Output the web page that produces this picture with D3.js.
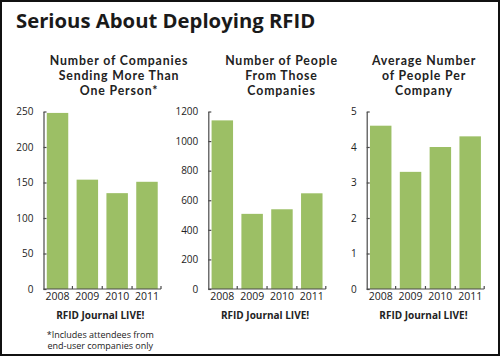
<!DOCTYPE html>
<html>
<head>
<meta charset="utf-8">
<script src="https://cdn.jsdelivr.net/npm/d3@7"></script>
<style>
  html, body { margin: 0; padding: 0; background: #fff; }
  svg { display: block; font-family: "Open Sans", sans-serif; }
</style>
</head>
<body>
<svg id="chart" width="500" height="356"></svg>
<script>
// ---- data ----
const years = ["2008", "2009", "2010", "2011"];
const companiesSending = [248, 154, 135, 151];
const peopleFromCompanies = [1140, 508, 539, 647];
const averagePerCompany = [4.6, 3.3, 4.0, 4.3];

const companiesTicks = [0, 50, 100, 150, 200, 250];
const peopleTicks = [0, 200, 400, 600, 800, 1000, 1200];
const averageTicks = [0, 1, 2, 3, 4, 5];

const mainTitle = "Serious About Deploying RFID";
const companiesTitle = ["Number of Companies", "Sending More Than", "One Person*"];
const peopleTitle = ["Number of People", "From Those", "Companies"];
const averageTitle = ["Average Number", "of People Per", "Company"];
const xAxisLabel = "RFID Journal LIVE!";
const footnote = ["*Includes attendees from", "end-user companies only"];

// ---- layout ----
const svg = d3.select("#chart");
const W = 500, H = 356;
const barColor = "#9cbf65";
const axisColor = "#4a4a4a";
const textColor = "#222";

svg.append("rect").attr("x", 1).attr("y", 1).attr("width", W - 2).attr("height", H - 2)
  .attr("fill", "#fff").attr("stroke", "#111").attr("stroke-width", 2);

svg.append("text").attr("x", 16).attr("y", 27.5)
  .attr("font-size", 20.3).attr("font-weight", 700).attr("fill", "#1a1a1a")
  .text(mainTitle);

const yTop = 111.5, yBottom = 289;

const panels = [
  { values: companiesSending, ticks: companiesTicks, max: 250, title: companiesTitle, x0: 43.5, titleX: 119 },
  { values: peopleFromCompanies, ticks: peopleTicks, max: 1200, title: peopleTitle, x0: 208.3, titleX: 281.5 },
  { values: averagePerCompany, ticks: averageTicks, max: 5, title: averageTitle, x0: 366.7, titleX: 424 }
];

panels.forEach((p, pi) => {
  const x1 = p.x0 + 117.5;
  const x = d3.scaleBand().domain(years).range([p.x0, x1]).paddingInner(0.28).paddingOuter(0.11);
  const y = d3.scaleLinear().domain([0, p.max]).range([yBottom, yTop]);
  const g = svg.append("g");

  // title
  g.append("text").attr("text-anchor", "middle").attr("font-size", 12.3).attr("font-weight", 700)
    .attr("font-family", "Lato, sans-serif").attr("letter-spacing", 0.85)
    .attr("fill", textColor)
    .selectAll("tspan").data(p.title).join("tspan")
    .attr("x", p.titleX).attr("y", (d, i) => 65.3 + i * 14.85).text(d => d);

  // bars
  g.selectAll("rect.bar").data(p.values).join("rect").attr("class", "bar")
    .attr("x", (d, i) => x(years[i]))
    .attr("width", x.bandwidth())
    .attr("y", d => y(d))
    .attr("height", d => y(0) - y(d))
    .attr("fill", barColor);

  // y axis
  const yAxis = d3.axisLeft(y).tickValues(p.ticks).tickFormat(d3.format("d"))
    .tickSize(-3).tickPadding(10).tickSizeOuter(0);
  const ya = g.append("g").attr("transform", `translate(${p.x0},0)`).call(yAxis);
  ya.select(".domain").attr("stroke", axisColor).attr("stroke-width", 1.2);
  ya.selectAll(".tick line").attr("stroke", axisColor).attr("stroke-width", 1.2);
  ya.selectAll(".tick text").attr("font-size", 10).attr("fill", textColor)
    .attr("font-family", "Open Sans, sans-serif");

  // x axis baseline with separator ticks
  g.append("line").attr("x1", p.x0).attr("x2", x1).attr("y1", y(0)).attr("y2", y(0))
    .attr("stroke", axisColor).attr("stroke-width", 1.2);
  const sepPositions = years.slice(1).map(yr => x(yr) - x.step() * x.paddingInner() / 2).concat([x1]);
  g.selectAll("line.sep").data(sepPositions).join("line").attr("class", "sep")
    .attr("x1", d => d).attr("x2", d => d).attr("y1", y(0)).attr("y2", y(0) - 3)
    .attr("stroke", axisColor).attr("stroke-width", 1.2);

  // year labels
  g.selectAll("text.year").data(years).join("text").attr("class", "year")
    .attr("x", d => x(d) + x.bandwidth() / 2).attr("y", 300)
    .attr("text-anchor", "middle").attr("font-size", 10.5).attr("fill", textColor)
    .text(d => d);

  const cx = (p.x0 + x1) / 2 - 2;
  g.append("text").attr("x", cx).attr("y", 319)
    .attr("text-anchor", "middle").attr("font-size", 10).attr("font-weight", 700).attr("fill", textColor)
    .text(xAxisLabel);

  if (pi === 0) {
    g.append("text").attr("text-anchor", "middle").attr("font-size", 9).attr("fill", textColor)
      .selectAll("tspan").data(footnote).join("tspan")
      .attr("x", cx).attr("y", (d, i) => 337.5 + i * 11.5).text(d => d);
  }
});
</script>
</body>
</html>
